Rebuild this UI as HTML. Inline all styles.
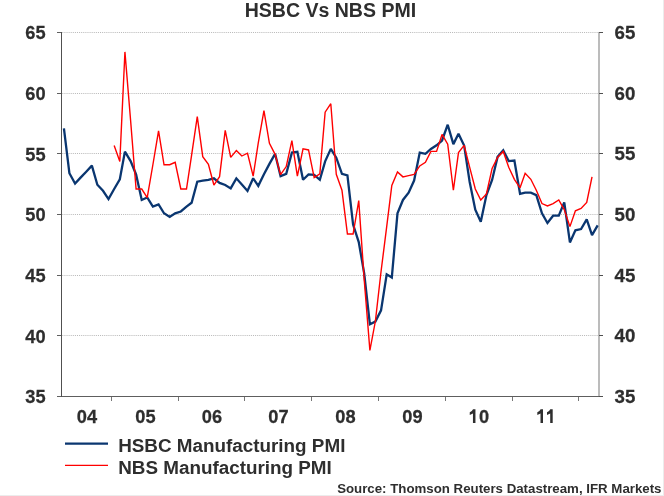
<!DOCTYPE html>
<html><head><meta charset="utf-8"><style>
html,body{margin:0;padding:0;background:#fff;}
body{width:664px;height:496px;overflow:hidden;position:relative;}
svg{position:absolute;left:0;top:0;display:block;will-change:transform;}
text{font-family:"Liberation Sans",sans-serif;font-weight:bold;fill:#2e2e2e;}
.ax text{stroke:#2e2e2e;stroke-width:0.25px;}
.g{stroke:#bababa;stroke-width:1;stroke-dasharray:1.0476 1.0476;stroke-dashoffset:1.78;}
</style></head><body>
<svg width="664" height="496" viewBox="0 0 664 496">
<rect x="0" y="0" width="664" height="496" fill="#fff"/>
<rect x="663" y="0" width="1" height="496" fill="#ececec"/>
<rect x="0" y="495" width="664" height="1" fill="#ececec"/>
<g><line x1="62" y1="32.5" x2="598" y2="32.5" class="g"/><line x1="62" y1="93.5" x2="598" y2="93.5" class="g"/><line x1="62" y1="153.5" x2="598" y2="153.5" class="g"/><line x1="62" y1="214.5" x2="598" y2="214.5" class="g"/><line x1="62" y1="275.5" x2="598" y2="275.5" class="g"/><line x1="62" y1="335.5" x2="598" y2="335.5" class="g"/></g>
<rect x="598" y="32" width="2" height="364" fill="#bcbcbc" shape-rendering="crispEdges"/>
<g stroke="#5e5e5e" stroke-width="1" shape-rendering="crispEdges">
<line x1="57" y1="396.5" x2="603" y2="396.5"/>
</g>
<g stroke="#505050" stroke-width="1" shape-rendering="crispEdges">
<line x1="61.5" y1="32" x2="61.5" y2="397"/>
<line stroke="#606060" x1="57" y1="32.5" x2="61" y2="32.5"/><line stroke="#606060" x1="57" y1="93.5" x2="61" y2="93.5"/><line stroke="#606060" x1="57" y1="153.5" x2="61" y2="153.5"/><line stroke="#606060" x1="57" y1="214.5" x2="61" y2="214.5"/><line stroke="#606060" x1="57" y1="275.5" x2="61" y2="275.5"/><line stroke="#606060" x1="57" y1="335.5" x2="61" y2="335.5"/><line stroke="#606060" x1="57" y1="396.5" x2="61" y2="396.5"/><line x1="599" y1="32.5" x2="603" y2="32.5"/><line x1="599" y1="93.5" x2="603" y2="93.5"/><line x1="599" y1="153.5" x2="603" y2="153.5"/><line x1="599" y1="214.5" x2="603" y2="214.5"/><line x1="599" y1="275.5" x2="603" y2="275.5"/><line x1="599" y1="335.5" x2="603" y2="335.5"/><line x1="599" y1="396.5" x2="603" y2="396.5"/>
</g>
<g stroke="#767676" stroke-width="1" shape-rendering="crispEdges"><line x1="111.5" y1="397" x2="111.5" y2="401"/><line x1="178.5" y1="397" x2="178.5" y2="401"/><line x1="244.5" y1="397" x2="244.5" y2="401"/><line x1="311.5" y1="397" x2="311.5" y2="401"/><line x1="378.5" y1="397" x2="378.5" y2="401"/><line x1="445.5" y1="397" x2="445.5" y2="401"/><line x1="512.5" y1="397" x2="512.5" y2="401"/><line x1="578.5" y1="397" x2="578.5" y2="401"/></g>
<polyline points="63.92,128.36 69.40,173.25 75.07,183.56 80.55,177.62 86.21,171.67 91.87,165.60 97.35,184.77 103.01,190.84 108.49,199.09 114.16,189.02 119.82,179.31 124.93,151.65 130.60,161.11 136.08,174.46 141.74,199.94 147.22,197.51 152.88,206.61 158.55,204.43 164.03,213.29 169.69,216.93 175.17,213.29 180.83,211.47 186.49,206.61 191.61,202.73 197.27,181.74 202.75,180.53 208.41,179.92 213.89,178.34 219.56,182.95 225.22,185.02 230.70,188.41 236.36,178.34 241.84,184.41 247.51,190.96 253.17,178.34 258.28,185.87 263.95,174.34 269.43,163.91 275.09,153.84 280.57,176.16 286.23,173.85 291.89,152.62 297.37,151.77 303.04,179.80 308.52,174.34 314.18,174.95 319.84,179.80 325.14,161.36 330.80,148.86 336.28,157.72 341.95,173.85 347.43,175.43 353.09,224.57 358.75,242.04 364.23,273.59 369.89,324.30 375.37,321.63 381.04,310.35 386.70,274.32 391.81,277.59 397.48,213.29 402.96,199.94 408.62,192.66 414.10,180.53 419.76,152.62 425.43,153.84 430.91,148.98 436.57,145.34 442.05,140.49 447.71,124.72 453.37,144.13 458.49,133.69 464.15,145.58 469.63,181.74 475.29,209.65 480.77,221.78 486.44,195.09 492.10,179.92 497.58,156.87 503.24,150.20 508.72,161.11 514.39,160.51 520.05,193.87 525.16,192.66 530.83,192.66 536.31,195.09 541.97,213.29 547.45,222.99 553.11,215.71 558.77,215.71 564.25,202.37 569.92,242.41 575.40,230.27 581.06,229.06 586.72,219.35 592.02,235.13 597.68,225.42" fill="none" stroke="#0a3670" stroke-width="2.3" stroke-linejoin="miter" stroke-miterlimit="2"/>
<polyline points="114.16,145.58 119.82,161.48 124.93,51.92 130.60,120.47 136.08,189.02 141.74,189.02 147.22,197.51 152.88,164.75 158.55,130.78 164.03,164.75 169.69,164.75 175.17,162.33 180.83,189.02 186.49,189.02 191.61,155.05 197.27,116.71 202.75,156.63 208.41,164.39 213.89,185.02 219.56,176.65 225.22,130.42 230.70,157.35 236.36,150.44 241.84,156.02 247.51,153.23 253.17,176.16 258.28,142.92 263.95,110.64 269.43,143.28 275.09,154.32 280.57,174.70 286.23,166.57 291.89,140.61 297.37,176.16 303.04,148.86 308.52,149.95 314.18,177.62 319.84,173.85 325.14,112.22 330.80,103.73 336.28,174.34 341.95,190.23 347.43,234.03 353.09,234.03 358.75,200.67 364.23,280.02 369.89,350.39 375.37,321.27 381.04,271.53 386.70,226.63 391.81,185.38 397.48,172.03 402.96,176.89 408.62,175.67 414.10,174.46 419.76,165.97 425.43,162.33 430.91,151.41 436.57,151.41 442.05,134.42 447.71,144.13 453.37,190.23 458.49,152.62 464.15,145.34 469.63,167.18 475.29,189.02 480.77,199.94 486.44,193.87 492.10,168.39 497.58,157.47 503.24,151.41 508.72,167.18 514.39,179.31 520.05,187.81 525.16,173.25 530.83,179.31 536.31,190.23 541.97,203.58 547.45,206.01 553.11,203.58 558.77,199.94 564.25,209.65 569.92,226.63 575.40,210.86 581.06,208.43 586.72,202.37 592.02,176.89" fill="none" stroke="#ff0000" stroke-width="1.4" stroke-linejoin="miter" stroke-miterlimit="2"/>
<g font-size="19" class="ax"><text transform="translate(45.6 39.23) scale(0.96 1.0)" text-anchor="end">65</text><text transform="translate(614.6 39.16) scale(0.985 1.0)">65</text><text transform="translate(45.6 99.89) scale(0.96 1.0)" text-anchor="end">60</text><text transform="translate(614.6 99.82) scale(0.985 1.0)">60</text><text transform="translate(45.6 160.56) scale(0.96 1.0)" text-anchor="end">55</text><text transform="translate(614.6 160.49) scale(0.985 1.0)">55</text><text transform="translate(45.6 221.22) scale(0.96 1.0)" text-anchor="end">50</text><text transform="translate(614.6 221.15) scale(0.985 1.0)">50</text><text transform="translate(45.6 281.88) scale(0.96 1.0)" text-anchor="end">45</text><text transform="translate(614.6 281.81) scale(0.985 1.0)">45</text><text transform="translate(45.6 342.55) scale(0.96 1.0)" text-anchor="end">40</text><text transform="translate(614.6 342.48) scale(0.985 1.0)">40</text><text transform="translate(45.6 403.22) scale(0.96 1.0)" text-anchor="end">35</text><text transform="translate(614.6 403.14) scale(0.985 1.0)">35</text><text transform="translate(87.00 422.8) scale(0.96 1.0)" text-anchor="middle">04</text><text transform="translate(145.50 422.8) scale(0.96 1.0)" text-anchor="middle">05</text><text transform="translate(212.00 422.8) scale(0.96 1.0)" text-anchor="middle">06</text><text transform="translate(278.50 422.8) scale(0.96 1.0)" text-anchor="middle">07</text><text transform="translate(345.50 422.8) scale(0.96 1.0)" text-anchor="middle">08</text><text transform="translate(412.50 422.8) scale(0.96 1.0)" text-anchor="middle">09</text><path d="M475.45,409.3 L475.45,422.9 L472.95,422.9 L472.95,413.5 L469.75,415.0 L469.75,412.3 Q472.25,411.2 473.05,409.3 Z" fill="#2e2e2e"/><text transform="translate(478.9 422.8) scale(0.96 1.0)">0</text><path d="M543.00,409.3 L543.00,422.9 L540.50,422.9 L540.50,413.5 L537.30,415.0 L537.30,412.3 Q539.80,411.2 540.60,409.3 Z" fill="#2e2e2e"/><path d="M552.70,409.3 L552.70,422.9 L550.20,422.9 L550.20,413.5 L547.00,415.0 L547.00,412.3 Q549.50,411.2 550.30,409.3 Z" fill="#2e2e2e"/></g>
<text x="330.4" y="16.75" font-size="19.55" text-anchor="middle">HSBC Vs NBS PMI</text>
<line x1="65" y1="443.7" x2="108" y2="443.7" stroke="#0a3670" stroke-width="2.3"/>
<line x1="65" y1="465.35" x2="108" y2="465.35" stroke="#ff0000" stroke-width="1.25"/>
<text x="118.2" y="452" font-size="18.85">HSBC Manufacturing PMI</text>
<text x="118.2" y="473.6" font-size="18.85">NBS Manufacturing PMI</text>
<text x="661.5" y="492.8" font-size="13.28" text-anchor="end">Source: Thomson Reuters Datastream, IFR Markets</text>
</svg>
</body></html>
